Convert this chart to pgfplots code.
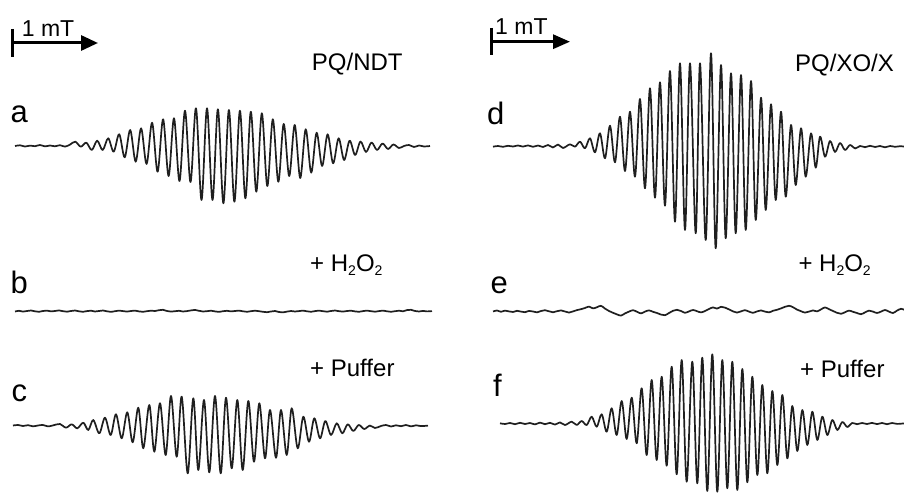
\documentclass[border=0pt]{standalone}
\usepackage{pgfplots}
\pgfplotsset{compat=1.18}
\usepackage{fontspec}
\setmainfont{Liberation Sans}
\usetikzlibrary{arrows.meta}

\tikzset{
  samplelbl/.style={anchor=base west, inner sep=0pt, font=\fontsize{24bp}{28bp}\selectfont},
  panellbl/.style={anchor=base west, inner sep=0pt, font=\fontsize{31bp}{36bp}\selectfont},
  trace/.style={black!88, line width=1.7bp, smooth, tension=0.55, mark=none, line join=round},
}
\newcommand{\sub}[1]{\raisebox{-0.3ex}{\fontsize{14bp}{14bp}\selectfont #1}}

% EPR traces, coordinates in drawing units (1 unit = 1bp), y grows downward
\pgfplotstableread{
x y
15 146
20 145.3
25 146.5
30 145.6
35 146.2
40 145
45 146.4
50 145.5
55 146.3
60 145.2
65 146.6
70 144.6
75.3 141.7
80.8 146.7
86.3 142.7
91.8 150
97.2 140.7
102.7 150
108.2 138.3
113.7 151.7
119.2 134.3
124.7 157.3
130.2 130
135.7 161.7
141.1 128.3
146.6 164
152.1 122.7
157.6 171.7
163.1 119.3
168.6 176
174.0 118.3
179.5 181
185.0 110.7
190.5 182
196.0 108.3
201.5 200
207.0 108.3
212.5 200
217.9 109.3
223.4 203.3
228.9 110
234.4 201.7
239.9 110.7
245.4 198.3
250.8 111.7
256.3 191.7
261.8 113.3
267.3 186
272.8 119.3
278.3 181.7
283.7 124
289.2 176
294.7 125
300.2 178
305.7 129.3
311.2 172.7
316.6 132.7
322.1 166
327.6 134.3
333.1 163.3
338.6 138.3
344.1 160
349.6 140.7
355.1 155
360.5 141.5
366 152
371.5 142.5
377 150
382.5 143.5
388 149
393.4 144.5
399 148
404 146
409 145
414 147
419 145.5
424 146.5
430 146
}\traceA

\pgfplotstableread{
x y
15 311.5
19 310.8
23 311.6
27 311
31 310.5
35 311.3
39 311.8
43 311
47 310.6
51 311.4
55 311
59 310.4
63 311.2
67 311.7
71 311
75 310.5
79 311.3
83 311.8
87 311.1
91 310.7
95 311.5
99 311
103 310.5
107 311.3
111 311.9
115 311.2
119 310.6
123 311.1
127 311.6
131 311
135 310.6
139 311.4
143 311.8
147 311.2
151 310.7
155 311
159 310.2
163 309.8
167 311
171 311.6
175 311.2
179 310.8
183 311.5
187 311.1
191 310.4
195 309.9
199 310.8
203 311.5
207 311.2
211 310.7
215 311.4
219 311.9
223 311.2
227 310.8
231 311.4
235 311
239 310.6
243 311.3
247 311.8
251 311.2
255 310.7
259 311.2
263 311.8
267 312.2
271 311.5
275 311
279 312
283 312.4
287 311.6
291 311
295 311.5
299 311.1
303 310.6
307 311.3
311 311.8
315 311.1
319 310.6
323 311.2
327 311.7
331 311
335 310.5
339 311.2
343 311.6
347 311
351 310.7
355 311.4
359 311.8
363 311.1
367 310.6
371 311.2
375 311.7
379 311.1
383 310.6
387 311.3
391 311.8
395 311.2
399 310.7
403 311.3
407 310.1
411 309.8
415 311
419 311.5
423 310.9
427 311.4
432 311.1
}\traceB

\pgfplotstableread{
x y
13 425.5
18 425
23 426
28 425.2
33 426.3
38 425.5
43 425
48 426.4
53 425.4
60 424
66 427.7
71.7 424.3
77.3 428.3
83.3 422.7
88.3 430
93.3 420
99.3 433.3
105 417.7
110.7 435
116 414.3
121.7 438.3
127.3 412.3
132.7 442.3
138.3 407.7
143.3 448.3
149.3 405
154.3 451.7
160 403.3
165.7 455
171 396
176.7 456.7
181.7 396.7
187.7 473.3
193.3 398.3
198.3 470
204 400
209.3 472.3
215 396
220.7 473.3
226 397.7
231.7 468.3
237.3 400
242.7 470
248.3 401
254 461.7
259.3 403.3
265 458.3
270 410
276 457.7
281 410
286.7 455
291.7 408.3
297.7 448.3
303.3 416.7
309 441.7
314.3 418.3
320 438.3
325.3 421
331 435
336.7 423.3
342.3 433.3
347.7 424.3
353.3 431
358.7 425
364.3 429
369.7 425.5
375 428
381 426
386 425
391 426.5
396 425.3
401 426.2
406 425
411 426.4
416 425.3
421 426.1
428 425.6
}\traceC

\pgfplotstableread{
x y
493 146.7
498 146
503 146.8
508 145.8
513 146.5
518 145.5
523 146.6
528 145.4
533 146.8
538 145.5
543 147
548 145
553 147.5
558 144.5
563 148
570 144.3
575 146.7
580 141.7
585 148.3
590 138.3
595 152.3
600 133.3
605 158.3
610 125.7
615 162.3
620 116.7
625 171
630 111.7
635 176.7
640 99
645 188.3
650 88.3
655 197.7
660 82.3
665 205.7
670 71
675 221.7
680 63.3
685 230
690 63.3
695.7 233.3
700 63.3
705.7 240
711 53.3
715.7 248.3
721 65
725.7 238.3
731 73.3
735.7 233.3
741 75
745.7 230
751 81
755.7 220
761 97.7
765.7 210
771 104.3
775.7 200
781 111.7
785.7 196.7
791 125
795.7 185
801 128.3
805.7 176.7
811 133.3
815.7 167.7
820 136.7
825 156.7
830 141
835 152
840 143
845 150
850 145
855 148.5
860 146
865 147.2
870 145.8
875 147
880 146
885 147.3
890 146
895 146.8
900 146.2
904 146.6
}\traceD

\pgfplotstableread{
x y
493 311.5
497 310.5
501 311.8
505 310.6
509 311.4
513 312
517 310.8
521 311.6
525 312.2
529 310.9
533 311.5
537 312.4
541 311
545 310.2
549 311.3
553 312.3
557 311.2
561 310.4
565 311.5
569 312.6
573 311.4
577 310.1
581 309.2
585 308
589 306.6
593 308.4
597 307.2
601 305.8
605 308.6
609 311
613 312.8
617 314.4
621 315.6
625 313.4
629 311.6
633 310.2
637 311.8
641 313.4
645 311.6
649 310.4
653 311.8
657 313
661 314.6
665 315.2
669 313
673 310.8
677 309.8
681 311
685 312.8
689 311.4
693 310
697 311.2
701 312.4
705 311
709 309
713 307.4
717 308.6
721 306.8
725 307.6
729 309.4
733 311.4
737 312.6
741 311.4
745 310.2
749 311.6
753 312.8
757 311.4
761 310.4
765 311.6
769 312.4
773 310.8
777 309.8
781 308.4
785 306.8
789 305.8
793 307.2
797 309.6
801 311.2
805 312.6
809 311.6
813 310.4
817 311.4
821 309.4
825 307.4
829 309.2
833 311
837 312.8
841 313.8
845 312.2
849 310.6
853 311.8
857 313
861 314.2
865 312.4
869 310.6
873 311.6
877 313
881 311.6
885 310
889 311.6
893 313
897 310.6
901 308.8
904 309.8
}\traceE

\pgfplotstableread{
x y
500 423.3
505 424
510 423
515 424.2
520 422.8
525 424
530 423
535 424.4
540 422.6
545 424.2
550 422.8
555 424.6
560 422.4
565 425
571.7 421.7
576.7 425
581.7 421
586.7 425
591.7 416.7
596.7 426.7
601.7 414.3
606.7 431.7
611.7 408.3
616.7 435
621.7 401
626.7 439
631.7 397.7
636.7 443.3
641.7 388.3
646.7 455
651.7 380
656.7 460
661.7 376.7
666.7 465.7
671.7 366.7
676.7 474.3
681.7 360
686.7 481.7
692.3 361.7
697.3 483.3
702.3 357.7
707.3 491
712.3 354.3
717.3 491.7
722.3 360
727.3 488.3
732.3 361.7
737.3 490
742.3 369
747.3 482.3
752.3 376.7
757.3 475
762.3 385
767.3 473.3
772.3 391
777.3 465
782.3 395
787.3 458.3
792.3 406
797.3 451
802.3 410
807.3 445
812.3 411.7
817.3 440
822.3 416.7
827.3 435
832.3 420
837.3 430
842.3 422
847.3 427
852 423
857 424.2
862 423
867 424
872 422.9
877 424.1
882 423
887 424.2
892 423
897 423.9
904 423.4
}\traceF

\begin{document}
\begin{tikzpicture}
\begin{axis}[
  x=1bp, y=1bp, y dir=reverse,
  xmin=0, xmax=904, ymin=0, ymax=493,
  scale only axis,
  axis lines=none, ticks=none,
]
\path (axis cs:0,0) (axis cs:904,493);

\addplot[trace] table[x=x, y=y] {\traceA};
\addplot[trace] table[x=x, y=y] {\traceB};
\addplot[trace] table[x=x, y=y] {\traceC};
\addplot[trace] table[x=x, y=y] {\traceD};
\addplot[trace] table[x=x, y=y] {\traceE};
\addplot[trace] table[x=x, y=y] {\traceF};

% field scale bars
\draw[line width=2.6bp] (axis cs:12.7,29) -- (axis cs:12.7,57);
\draw[line width=3bp, -{Triangle[length=17bp,width=15bp]}] (axis cs:12.7,43) -- (axis cs:98,43);
\node[samplelbl, font=\fontsize{23bp}{27bp}\selectfont] at (axis cs:21.7,36.7) {1 mT};
\draw[line width=2.6bp] (axis cs:491.7,28) -- (axis cs:491.7,55);
\draw[line width=3bp, -{Triangle[length=17bp,width=14bp]}] (axis cs:491.7,41.7) -- (axis cs:570,41.7);
\node[samplelbl, font=\fontsize{23bp}{27bp}\selectfont] at (axis cs:495,35) {1 mT};

% sample labels
\node[samplelbl] at (axis cs:311.7,70.7) {PQ/NDT};
\node[samplelbl] at (axis cs:795,71.7) {PQ/XO/X};
\node[samplelbl] at (axis cs:310,271.7) {+ H\sub{2}O\sub{2}};
\node[samplelbl] at (axis cs:798.3,271.7) {+ H\sub{2}O\sub{2}};
\node[samplelbl] at (axis cs:310,376.7) {+ Puffer};
\node[samplelbl] at (axis cs:800,377.3) {+ Puffer};

% panel letters
\node[panellbl] at (axis cs:10.5,122.7) {a};
\node[panellbl] at (axis cs:10.5,293.3) {b};
\node[panellbl] at (axis cs:11.5,401.7) {c};
\node[panellbl] at (axis cs:487,125) {d};
\node[panellbl] at (axis cs:490.5,293.3) {e};
\node[panellbl] at (axis cs:493,396.7) {f};
\end{axis}
\end{tikzpicture}
\end{document}
